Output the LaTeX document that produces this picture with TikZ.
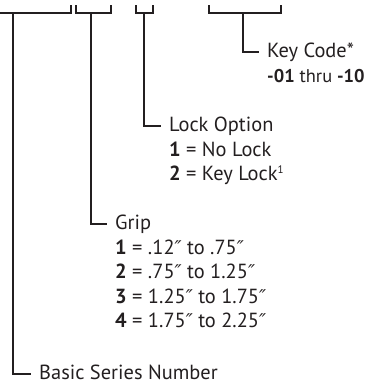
\documentclass[tikz,border=0pt]{standalone}
\usepackage{fontspec}
\setmainfont{PT Sans}
\newfontfamily\primefont{DejaVu Sans}
\newcommand\inch{{\primefont\itshape\fontsize{19}{20}\selectfont ″}}
\usetikzlibrary{positioning}
\definecolor{ink}{HTML}{231F20}

\begin{document}
\begin{tikzpicture}[x=1bp, y=-1bp, node distance=24.5bp, color=ink,
    font=\fontsize{20.5}{24}\selectfont,
    txt/.style={anchor=west, inner xsep=8bp, inner ysep=0pt, text height=15bp, text depth=4bp},
    opt/.style={txt, below=of #1.west, anchor=west, inner xsep=8bp},
    rule/.style={line width=1.1bp}]
    \useasboundingbox (0,0) rectangle (373,386);

    % brackets along the top
    \draw[rule] (0,13) -- (71,13) -- (71,5);
    \draw[rule] (76,5) |- (111,13) -- (111,5);
    \draw[rule] (136,5) |- (153,13) -- (153,5);
    \draw[rule] (209,5) |- (281,13) -- (281,5);
    \coordinate (series top) at (13,13);
    \coordinate (grip top) at (91,13);
    \coordinate (lock top) at (144,13);
    \coordinate (code top) at (243,13);

    % labels
    \node[txt] (code) at (259,52) {Key Code*};
    \node[opt=code, font=\fontsize{18.5}{22}\selectfont] (code1) {\textbf{-01} thru \textbf{-10}};

    \node[txt] (lock) at (161,126) {Lock Option};
    \node[opt=lock] (lock1) {\textbf{1} = No Lock};
    \node[opt=lock1] (lock2) {\textbf{2} = Key Lock{\fontsize{11}{12}\selectfont\raisebox{7bp}{1}}};

    \node[txt] (grip) at (107,224) {Grip};
    \node[opt=grip] (grip1) {\textbf{1} = .12\inch{} to .75\inch};
    \node[opt=grip1] (grip2) {\textbf{2} = .75\inch{} to 1.25\inch};
    \node[opt=grip2] (grip3) {\textbf{3} = 1.25\inch{} to 1.75\inch};
    \node[opt=grip3] (grip4) {\textbf{4} = 1.75\inch{} to 2.25\inch};

    \node[txt] (series) at (31,374) {Basic Series Number};

    % leaders
    \draw[rule] (code top) |- (code);
    \draw[rule] (lock top) |- (lock);
    \draw[rule] (grip top) |- (grip);
    \draw[rule] (series top) |- (series);
\end{tikzpicture}
\end{document}
